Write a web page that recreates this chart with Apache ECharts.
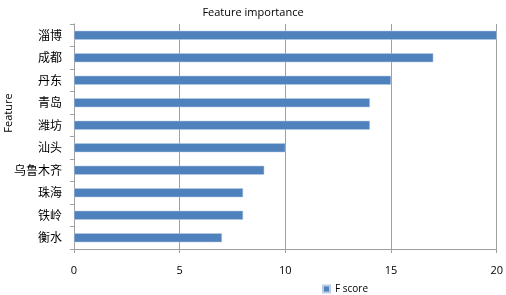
<!DOCTYPE html>
<html><head><meta charset="utf-8">
<script src="https://cdn.jsdelivr.net/npm/echarts@6/dist/echarts.min.js"></script>
<style>html,body{margin:0;padding:0;background:#fff}#c{width:506px;height:295px}</style>
</head><body><div id="c"></div>
<script>
var categories = ['淄博','成都','丹东','青岛','潍坊','汕头','乌鲁木齐','珠海','铁岭','衡水'];
var fscore = [20,17,15,14,14,10,9,8,8,7];
var xTicks = [0,5,10,15,20];

var chart = echarts.init(document.getElementById('c'));
var font = '"Open Sans", "Noto Sans CJK SC", sans-serif';
chart.setOption({
  animation:false,
  textStyle:{fontFamily:font},
  title:{text:'Feature importance',left:'center',top:2,textStyle:{fontSize:11,fontWeight:'normal',color:'#000',fontFamily:font}},
  grid:{left:74,right:8,top:24,bottom:46,containLabel:false},
  legend:{data:['F score'],left:317,top:279,itemWidth:7,itemHeight:7,itemGap:3,icon:'rect',textStyle:{fontSize:10,color:'#000',fontFamily:font}},
  xAxis:{type:'value',min:xTicks[0],max:xTicks[xTicks.length-1],interval:5,
    axisLine:{show:true,lineStyle:{color:'#A0A0A0',width:1}},
    axisTick:{show:true,length:4,lineStyle:{color:'#A0A0A0'}},
    axisLabel:{fontSize:11,color:'#000',margin:16,fontFamily:font},
    splitLine:{show:true,lineStyle:{color:'#A0A0A0',width:1}}},
  yAxis:{type:'category',data:categories,inverse:true,
    axisLine:{show:true,lineStyle:{color:'#A0A0A0',width:1}},
    axisTick:{show:true,length:4,alignWithLabel:false,lineStyle:{color:'#A0A0A0'}},
    axisLabel:{fontSize:12,color:'#000',margin:12,fontFamily:'"Noto Sans CJK SC", sans-serif'},
    splitLine:{show:false}},
  graphic:[{type:'text',rotation:Math.PI/2,style:{text:'Feature',fontSize:11,fill:'#000',fontFamily:font,textAlign:'center',textVerticalAlign:'middle'},
    x:9,y:113}],
  series:[{name:'F score',type:'bar',data:fscore,barWidth:9,
    itemStyle:{color:'#4F81BD',borderColor:'#B9CDE5',borderWidth:0.5}}]
});
</script></body></html>
